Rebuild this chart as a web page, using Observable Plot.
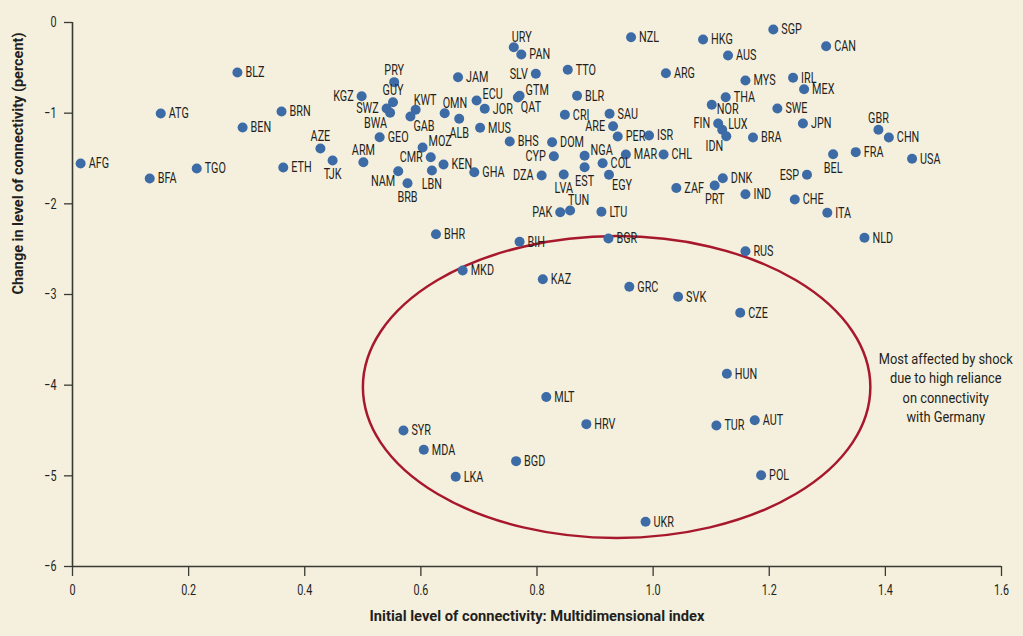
<!DOCTYPE html>
<html>
<head>
<meta charset="utf-8">
<script src="https://cdn.jsdelivr.net/npm/d3@7"></script>
<script src="https://cdn.jsdelivr.net/npm/@observablehq/plot@0.6"></script>
<style>
  html, body { margin: 0; padding: 0; background: #f5f0de; }
  #chart { width: 1023px; height: 636px; }
</style>
</head>
<body>
<div id="chart"></div>
<script>
// ---- Data ----
const countries = ["AFG","BFA","TGO","ATG","BLZ","BEN","BRN","ETH","AZE","TJK",
  "KGZ","PRY","GUY","SWZ","BWA","KWT","GAB","OMN","ALB","JAM",
  "ECU","JOR","MUS","URY","PAN","SLV","GTM","QAT","TTO","BLR",
  "CRI","SAU","ARE","PER","ISR","NZL","ARG","GEO","ARM","MOZ",
  "CMR","KEN","NAM","LBN","BRB","GHA","BHS","DOM","CYP","DZA",
  "LVA","NGA","EST","COL","EGY","MAR","CHL","ZAF","PAK","TUN",
  "LTU","SGP","HKG","AUS","CAN","MYS","IRL","MEX","THA","NOR",
  "SWE","JPN","FIN","LUX","IDN","BRA","GBR","CHN","FRA","BEL",
  "USA","ESP","DNK","PRT","IND","CHE","ITA","NLD","RUS","SVK",
  "CZE","BHR","BIH","BGR","MKD","KAZ","GRC","HUN","MLT","SYR",
  "MDA","LKA","BGD","HRV","TUR","AUT","POL","UKR"];

const initialConnectivity = [0.014,0.133,0.214,0.152,0.284,0.293,0.360,0.363,0.427,0.448,
  0.498,0.554,0.552,0.541,0.547,0.591,0.582,0.641,0.666,0.664,
  0.696,0.710,0.702,0.760,0.773,0.798,0.770,0.767,0.853,0.869,
  0.848,0.925,0.931,0.939,0.993,0.962,1.022,0.529,0.501,0.603,
  0.617,0.639,0.561,0.619,0.577,0.692,0.753,0.826,0.829,0.808,
  0.846,0.882,0.882,0.913,0.924,0.953,1.018,1.040,0.840,0.857,
  0.911,1.207,1.086,1.129,1.298,1.159,1.241,1.260,1.125,1.101,
  1.214,1.258,1.112,1.119,1.126,1.172,1.388,1.406,1.349,1.310,
  1.446,1.265,1.120,1.106,1.159,1.244,1.300,1.364,1.159,1.043,
  1.150,0.626,0.770,0.923,0.672,0.810,0.959,1.127,0.816,0.570,
  0.605,0.660,0.764,0.885,1.109,1.175,1.186,0.987];

const changeInConnectivity = [-1.555,-1.721,-1.610,-1.004,-0.551,-1.158,-0.982,-1.599,-1.390,-1.522,
  -0.813,-0.658,-0.879,-0.948,-0.996,-0.963,-1.037,-1.000,-1.062,-0.603,
  -0.860,-0.952,-1.161,-0.272,-0.353,-0.566,-0.808,-0.827,-0.522,-0.808,
  -1.018,-1.007,-1.144,-1.257,-1.246,-0.162,-0.559,-1.265,-1.541,-1.379,
  -1.486,-1.566,-1.640,-1.632,-1.772,-1.651,-1.312,-1.320,-1.475,-1.687,
  -1.676,-1.470,-1.596,-1.552,-1.680,-1.456,-1.456,-1.825,-2.092,-2.073,
  -2.088,-0.077,-0.187,-0.364,-0.261,-0.640,-0.610,-0.736,-0.824,-0.908,
  -0.949,-1.114,-1.114,-1.183,-1.254,-1.268,-1.183,-1.268,-1.430,-1.453,
  -1.503,-1.680,-1.717,-1.798,-1.894,-1.952,-2.099,-2.375,-2.522,-3.025,
  -3.202,-2.335,-2.419,-2.382,-2.735,-2.831,-2.915,-3.875,-4.130,-4.500,
  -4.713,-5.011,-4.838,-4.430,-4.445,-4.386,-4.993,-5.507];

const xTicks = [0, 0.2, 0.4, 0.6, 0.8, 1.0, 1.2, 1.4, 1.6];
const xTickLabels = ["0","0.2","0.4","0.6","0.8","1.0","1.2","1.4","1.6"];
const yTicks = [0, -1, -2, -3, -4, -5, -6];
const yTickLabels = ["0","\u22121","\u22122","\u22123","\u22124","\u22125","\u22126"];

const xTitle = "Initial level of connectivity: Multidimensional index";
const yTitle = "Change in level of connectivity (percent)";
const annotationText = "Most affected by shock\ndue to high reliance\non connectivity\nwith Germany";
const annotationAt = [1.504, -4.02];
// highlighted group outline (centre and radii, data units)
const ellipseCenter = [0.938, -4.026];
const ellipseRadii = [0.437, 1.665];

// Label placement (annotation layout)
const labelPlacement = {
  t: ["AZE","PRY","GUY","ARM","GBR"],
  b: ["TJK","ALB","LBN","BRB","LVA","EST","BEL","PRT"],
  l: ["KGZ","SWZ","SLV","ARE","FIN","CMR","CYP","DZA","PAK","ESP"],
  bl: ["BWA","NAM","IDN"],
  tr: ["KWT","OMN","URY","TUN"],
  ru: ["ECU","GTM","NGA","LUX","MOZ"],
  rd: ["NOR"],
  br: ["GAB","QAT","EGY"]
};
const placementStyle = {
  r:  {dx: 8,  dy: 0,   textAnchor: "start"},
  ru: {dx: 6,  dy: -6,  textAnchor: "start"},
  rd: {dx: 5,  dy: 4,   textAnchor: "start"},
  l:  {dx: -8, dy: 0,   textAnchor: "end"},
  t:  {dx: 0,  dy: -12, textAnchor: "middle"},
  b:  {dx: 0,  dy: 14,  textAnchor: "middle"},
  bl: {dx: -3, dy: 10,  textAnchor: "end"},
  tr: {dx: -2, dy: -10, textAnchor: "start"},
  br: {dx: 3,  dy: 10,  textAnchor: "start"}
};

// ---- Build table ----
const placeOf = {};
for (const [k, list] of Object.entries(labelPlacement)) for (const c of list) placeOf[c] = k;
const data = countries.map((c, i) => ({
  code: c, x: initialConnectivity[i], y: changeInConnectivity[i], place: placeOf[c] || "r"
}));

const FONT = "Roboto, 'Liberation Sans', sans-serif";
const INK = "#231f20";
const AXIS = "#3a3a34";

const ellipseMark = (index, scales, values, dimensions) => {
  const ns = "http://www.w3.org/2000/svg";
  const g = document.createElementNS(ns, "g");
  const e = document.createElementNS(ns, "ellipse");
  const cx = scales.x(ellipseCenter[0]), cy = scales.y(ellipseCenter[1]);
  const rx = scales.x(ellipseCenter[0] + ellipseRadii[0]) - cx;
  const ry = scales.y(ellipseCenter[1] - ellipseRadii[1]) - cy;
  e.setAttribute("cx", cx); e.setAttribute("cy", cy);
  e.setAttribute("rx", rx); e.setAttribute("ry", ry);
  e.setAttribute("fill", "none");
  e.setAttribute("stroke", "#a8182c");
  e.setAttribute("stroke-width", 2.5);
  g.appendChild(e);
  return g;
};

const labelMarks = Object.entries(placementStyle).map(([k, s]) =>
  Plot.text(data.filter(d => d.place === k), {
    x: "x", y: "y", text: "code", dx: s.dx, dy: s.dy, textAnchor: s.textAnchor,
    fill: INK, fontSize: 15
  })
);

const chart = Plot.plot({
  width: 1023,
  height: 636,
  marginLeft: 72,
  marginRight: 22,
  marginTop: 22,
  marginBottom: 70,
  style: {background: "#f5f0de", fontFamily: FONT, fontSize: "15px", color: INK},
  x: {domain: [0, 1.6], label: null},
  y: {domain: [-6, 0], label: null},
  marks: [
    ellipseMark,
    Plot.ruleX([0], {y1: -6, y2: 0, stroke: AXIS, strokeWidth: 1.6}),
    Plot.ruleY([-6], {x1: 0, x2: 1.6, stroke: AXIS, strokeWidth: 1.6}),
    Plot.axisX({ticks: xTicks, tickSize: 10, tickPadding: 8, tickFormat: (d, i) => xTickLabels[i],
      label: null, fontSize: 15, stroke: AXIS, strokeWidth: 1.3}),
    Plot.axisY({ticks: yTicks, tickSize: 8, tickPadding: 8, tickFormat: (d, i) => yTickLabels[i],
      label: null, fontSize: 15, stroke: AXIS, strokeWidth: 1.3}),
    Plot.dot(data, {x: "x", y: "y", r: 5, fill: "#3d6ba6", stroke: "none"}),
    ...labelMarks,
    Plot.text([annotationText], {x: annotationAt[0], y: annotationAt[1], text: d => d,
      textAnchor: "middle", lineHeight: 1.3, fontSize: 15, fill: INK}),
    Plot.text([xTitle], {frameAnchor: "bottom", dy: 54, text: d => d,
      fontWeight: "bold", fontSize: 15, fill: INK}),
    Plot.text([yTitle], {frameAnchor: "left", dx: -54, rotate: -90, text: d => d,
      fontWeight: "bold", fontSize: 15, fill: INK})
  ]
});
document.getElementById("chart").appendChild(chart);

// Condense the typography (the reference uses a condensed face)
const CONDENSE = 0.72;
const titleWidths = {[xTitle]: 335, [yTitle]: 262};
const annotationFirstLineWidth = 134;
chart.querySelectorAll("text").forEach(t => {
  const spans = Array.from(t.querySelectorAll("tspan"));
  if (spans.length) {
    const f = annotationFirstLineWidth / spans[0].getComputedTextLength();
    spans.forEach(el => {
      const L = el.getComputedTextLength();
      el.setAttribute("textLength", L * f);
      el.setAttribute("lengthAdjust", "spacingAndGlyphs");
    });
    return;
  }
  const L = t.getComputedTextLength();
  if (!(L > 0)) return;
  const target = titleWidths[t.textContent] || L * CONDENSE;
  t.setAttribute("textLength", target);
  t.setAttribute("lengthAdjust", "spacingAndGlyphs");
});
</script>
</body>
</html>
